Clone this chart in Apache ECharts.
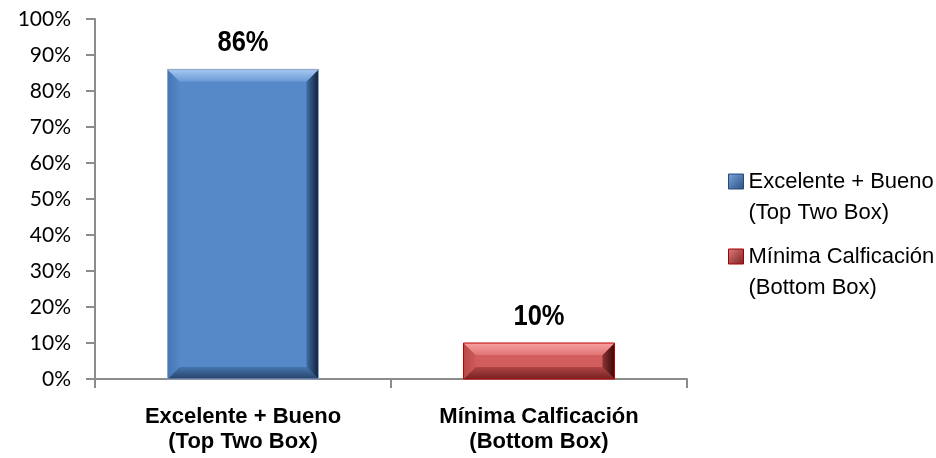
<!DOCTYPE html>
<html>
<head>
<meta charset="utf-8">
<script src="https://cdn.jsdelivr.net/npm/echarts@6/dist/echarts.min.js"></script>
<style>
  html, body { margin: 0; padding: 0; background: #ffffff; }
  #chart { width: 936px; height: 458px; }
</style>
</head>
<body>
<div id="chart"></div>
<script>
// Categories on the x axis (also used as the legend entries)
const categories = ['Excelente + Bueno\n(Top Two Box)', 'Mínima Calficación\n(Bottom Box)'];
// Share of respondents, in percent
const topTwoBox = [86];
const bottomBox = [10];
// Value axis ticks
const yTickValues = [0, 10, 20, 30, 40, 50, 60, 70, 80, 90, 100];

const SANS = "'Liberation Sans', Arial, sans-serif";

// Bevelled bar palettes: face, top, left, right, bottom bands and outline
const palettes = [
  { face: '#5689c8', top: ['#a6c8ef', '#6b9bd7'], left: ['#4676b2', '#5587c6'],
    right: ['#3f6ca3', '#10203a'], bottom: ['#4574ae', '#27446b'], stroke: '#8ea7c6' },
  { face: '#d25d5d', top: ['#f7a0a0', '#e27474'], left: ['#b84848', '#cd5959'],
    right: ['#8c3232', '#3c0909'], bottom: ['#b04545', '#772222'], stroke: '#c00000' }
];

function lin(x1, y1, x2, y2, c) {
  return new echarts.graphic.LinearGradient(x1, y1, x2, y2, [
    { offset: 0, color: c[0] }, { offset: 1, color: c[1] }
  ]);
}

function renderBevelBar(params, api) {
  const cat = api.value(0);
  const val = api.value(1);
  const topPt = api.coord([cat, val]);
  const basePt = api.coord([cat, 0]);
  const band = api.size([1, 0])[0];
  const w = band * 0.51;
  const x0 = topPt[0] - w / 2, x1 = topPt[0] + w / 2;
  const y0 = topPt[1], y1 = basePt[1];
  const b = Math.min(12, (y1 - y0) / 3, w / 3);
  const p = palettes[params.seriesIndex];
  const poly = (pts, fill) => ({ type: 'polygon', shape: { points: pts }, style: { fill: fill } });
  return {
    type: 'group',
    children: [
      { type: 'rect', shape: { x: x0, y: y0, width: w, height: y1 - y0 }, style: { fill: p.face } },
      poly([[x0, y1], [x0 + b, y1 - b], [x1 - b, y1 - b], [x1, y1]], lin(0, 0, 0, 1, p.bottom)),
      poly([[x0, y0], [x0 + b, y0 + b], [x0 + b, y1 - b], [x0, y1]], lin(0, 0, 1, 0, p.left)),
      poly([[x1, y0], [x1, y1], [x1 - b, y1 - b], [x1 - b, y0 + b]], lin(0, 0, 1, 0, p.right)),
      poly([[x0, y0], [x1, y0], [x1 - b, y0 + b], [x0 + b, y0 + b]], lin(0, 0, 0, 1, p.top)),
      { type: 'rect', shape: { x: x0, y: y0, width: w, height: y1 - y0 },
        style: { fill: null, stroke: p.stroke, lineWidth: 1 } },
      // value label above the bar, slightly condensed
      { type: 'text', x: topPt[0], y: y0 - 26, scaleX: 0.88,
        style: {
          text: val + '%', x: 0, y: 0, align: 'center', verticalAlign: 'middle',
          fontSize: 29, fontWeight: 'bold', fontFamily: SANS, fill: '#000000' } }
    ]
  };
}

const chart = echarts.init(document.getElementById('chart'), null, { renderer: 'canvas' });

chart.setOption({
  backgroundColor: '#ffffff',
  animation: false,
  grid: { left: 95, right: 249, top: 19, bottom: 79 },
  legend: {
    orient: 'vertical',
    left: 723,
    top: 130,
    itemWidth: 15,
    itemHeight: 15,
    itemGap: -18,
    selectedMode: false,
    // blank first line keeps the marker level with the first line of text
    formatter: name => '\u00a0\n' + name,
    data: [
      { name: categories[0], icon: 'rect',
        itemStyle: { color: lin(0, 0, 1, 1, ['#7aa6dc', '#2c4f80']), borderColor: '#284a78', borderWidth: 1 } },
      { name: categories[1], icon: 'rect',
        itemStyle: { color: lin(0, 0, 1, 1, ['#e07d7d', '#7a1f1f']), borderColor: '#a00000', borderWidth: 1 } }
    ],
    textStyle: { fontFamily: SANS, fontSize: 22, color: '#000000', lineHeight: 31 }
  },
  xAxis: {
    type: 'category',
    data: categories,
    axisLine: { lineStyle: { color: '#8c8c8c', width: 2 } },
    axisTick: { show: true, interval: 0, length: 9, lineStyle: { color: '#8c8c8c', width: 2 } },
    axisLabel: { interval: 0, margin: 25, fontFamily: SANS, fontSize: 22, fontWeight: 'bold',
      color: '#000000', lineHeight: 25 }
  },
  yAxis: {
    type: 'value',
    min: yTickValues[0],
    max: yTickValues[yTickValues.length - 1],
    interval: yTickValues[1] - yTickValues[0],
    splitLine: { show: false },
    axisLine: { show: true, lineStyle: { color: '#8c8c8c', width: 2 } },
    axisTick: { show: true, length: 9, lineStyle: { color: '#8c8c8c', width: 2 } },
    axisLabel: { margin: 24, fontFamily: "Lato, 'DejaVu Sans', sans-serif", fontSize: 21, color: '#000000',
      formatter: v => v + '%' }
  },
  series: [
    { name: categories[0], type: 'custom', renderItem: renderBevelBar,
      itemStyle: { color: palettes[0].face },
      encode: { x: 0, y: 1 }, data: topTwoBox.map(v => [0, v]) },
    { name: categories[1], type: 'custom', renderItem: renderBevelBar,
      itemStyle: { color: palettes[1].face },
      encode: { x: 0, y: 1 }, data: bottomBox.map(v => [1, v]) }
  ]
});
</script>
</body>
</html>
